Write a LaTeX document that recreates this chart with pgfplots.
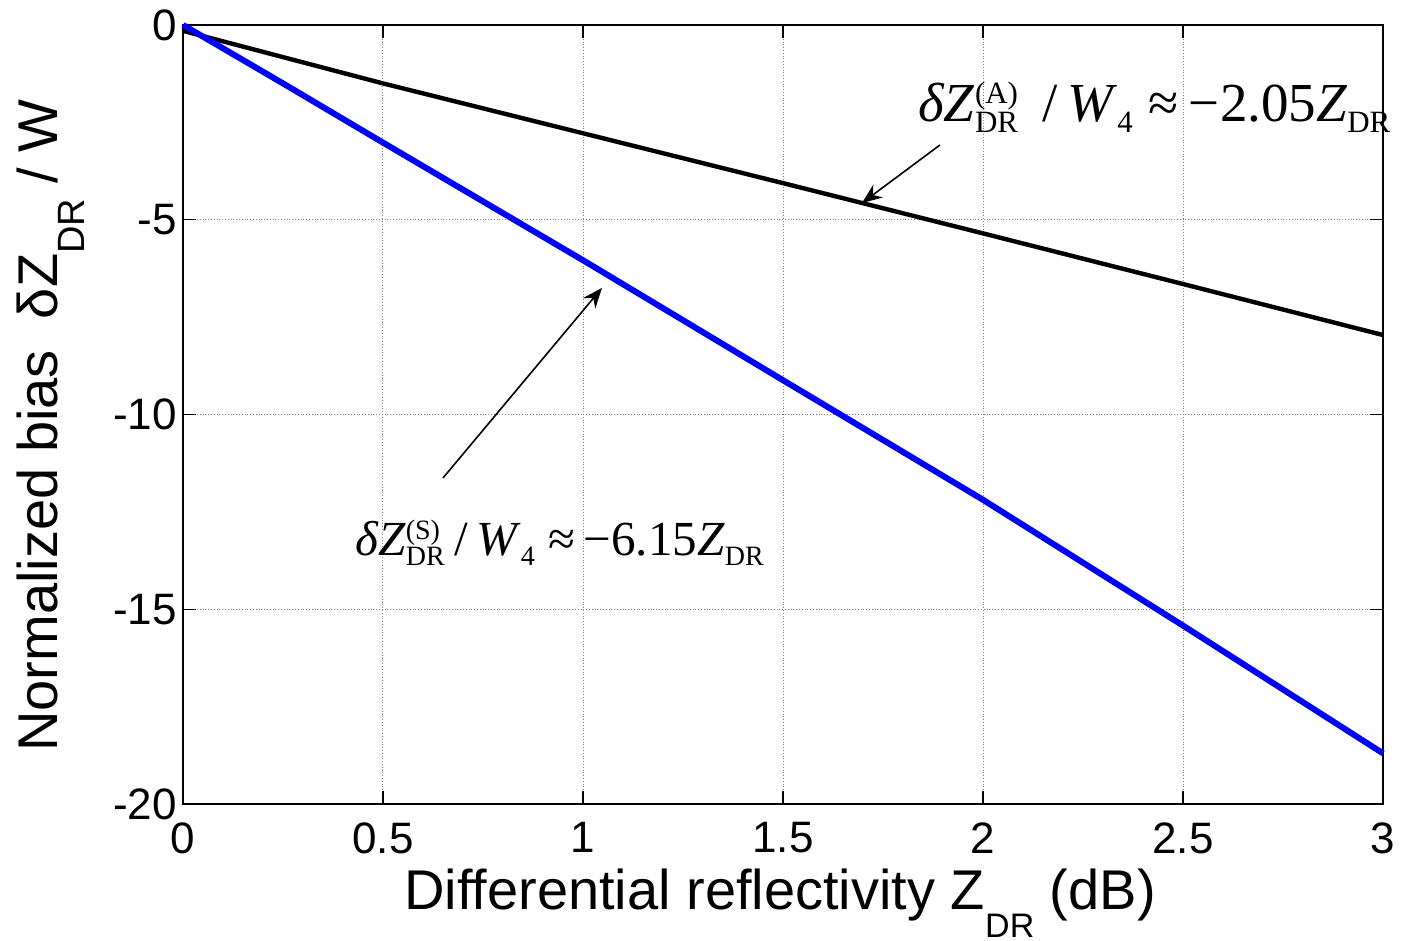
\documentclass[border=0pt]{standalone}
\usepackage{fontspec}
\usepackage{pgfplots}
\pgfplotsset{compat=1.18}
\usetikzlibrary{arrows.meta}
\setmainfont{Liberation Sans}
\newfontfamily\tnr{Liberation Serif}
% first annotation sizes
\newcommand\smfA{\fontsize{15.5}{15.5}\selectfont}
\newcommand\ssubA[1]{\raisebox{-5.5pt}{\smfA #1}}
\newcommand\supsubA[2]{\rlap{\raisebox{9pt}{\smfA #1}}\raisebox{-5.5pt}{\smfA #2}}
% second annotation sizes
\newcommand\smfB{\fontsize{14}{14}\selectfont}
\newcommand\ssubB[1]{\raisebox{-5pt}{\smfB #1}}
\newcommand\supsubB[2]{\rlap{\raisebox{8pt}{\smfB #1}}\raisebox{-5pt}{\smfB #2}}
\begin{document}
\begin{tikzpicture}
\useasboundingbox (-91.5pt,-68.5pt) rectangle (610pt,402pt);
\begin{axis}[
  at={(0,0)}, anchor=south west,
  scale only axis, width=600pt, height=389.5pt,
  xmin=0, xmax=3, ymin=-20, ymax=0,
  xtick={0,0.5,1,1.5,2,2.5,3},
  xticklabels={0,0.5,1,1.5,2,2.5,3},
  ytick={-20,-15,-10,-5,0},
  yticklabels={-20,-15,-10,-5,0},
  tick align=inside,
  major tick length=6.5pt,
  tick style={black, line width=0.6pt},
  axis line style={black, line width=0.8pt},
  grid=major,
  major grid style={densely dotted, gray, line width=0.5pt},
  ticklabel style={font=\fontsize{22}{24}\selectfont},
  xticklabel style={inner sep=0pt, anchor=north, yshift=-9pt},
  yticklabel style={inner sep=0pt, anchor=east, xshift=-3pt},
  clip=false,
]
\addplot[black, line width=2.2pt] coordinates {
(0,-0.15) (0.5,-1.5) (1,-2.78) (1.5,-4.06) (2,-5.35) (2.5,-6.65) (3,-7.96)};
\addplot[blue, line width=3pt, line join=round] coordinates {
(0,0) (0.25,-1.5) (0.5,-3.02) (1,-6.04) (1.5,-9.12) (2,-12.19) (2.5,-15.42) (3,-18.7)};

\draw[-{Stealth[length=10pt,width=8pt]}, line width=0.8pt] (axis cs:1.8925,-3.08) -- (axis cs:1.6975,-4.57);
\draw[-{Stealth[length=10pt,width=8pt]}, line width=0.8pt] (axis cs:0.65,-11.63) -- (axis cs:1.0475,-6.75);

\node[anchor=base west, inner sep=0pt] at (axis cs:1.8375,-2.49)
  {\tnr\fontsize{27.5}{30}\selectfont \textit{δZ}\supsubA{(A)}{DR}\hspace{12pt}/\hspace{5pt}\textit{W}\ssubA{4}\hspace{8pt}≈\hspace{5pt}−2.05\textit{Z}\ssubA{DR}};
\node[anchor=base west, inner sep=0pt] at (axis cs:0.43,-13.61)
  {\tnr\fontsize{24.5}{27}\selectfont \textit{δZ}\supsubB{(S)}{DR}\hspace{5pt}/\hspace{4pt}\textit{W}\ssubB{4}\hspace{7pt}≈\hspace{4pt}−6.15\textit{Z}\ssubB{DR}};

\node[anchor=base, inner sep=0pt] at (axis cs:1.4925,-22.72)
  {\fontsize{28}{30}\selectfont Differential reflectivity Z\raisebox{-14pt}{\fontsize{17}{17}\selectfont DR} (dB)};
\node[anchor=base, inner sep=0pt, rotate=90] at (axis cs:-0.3125,-10.28)
  {\fontsize{28}{30}\selectfont Normalized bias\ \ δZ\raisebox{-13.5pt}{\fontsize{19}{19}\selectfont DR}\ / W};
\end{axis}
\end{tikzpicture}
\end{document}
